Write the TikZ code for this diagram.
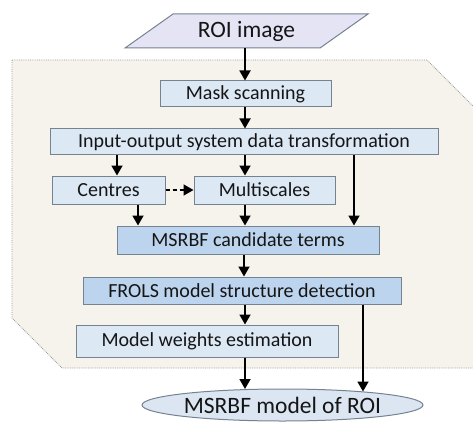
\documentclass[tikz,border=0pt]{standalone}
\usepackage{fontspec}
\setmainfont{Carlito}
\usetikzlibrary{shapes.geometric,arrows.meta}

\definecolor{panelfill}{HTML}{F6F3EC}
\definecolor{panelline}{HTML}{9A9A9A}
\definecolor{boxlight}{HTML}{DDE8F5}
\definecolor{boxdark}{HTML}{BCD4EE}
\definecolor{boxline}{HTML}{75828F}
\definecolor{roifill}{HTML}{E4E4F5}
\definecolor{outfill}{HTML}{DCE6F3}
\definecolor{txt}{HTML}{151515}

\tikzset{
  x=1pt, y=-1pt,
  panel/.style={fill=panelfill, draw=panelline, densely dotted, line width=0.8pt},
  stage/.style={rectangle, draw=boxline, line width=1pt, fill=boxlight,
    inner sep=0pt, text=txt, font=\fontsize{20}{24}\selectfont},
  keystage/.style={stage, fill=boxdark},
  roishape/.style={fill=roifill, draw=boxline, line width=1pt},
  roilabel/.style={inner sep=0pt, text=txt, font=\fontsize{23.5}{28}\selectfont},
  result/.style={ellipse, draw=boxline, line width=1pt, fill=outfill,
    inner sep=0pt, text=txt, font=\fontsize{23.5}{28}\selectfont},
  arr/.style={line width=1.8pt, -{Triangle[width=11pt,length=10pt]}},
  dasharr/.style={line width=1.6pt, dash pattern=on 4pt off 3pt,
    -{Triangle[width=11pt,length=10pt]}}
}

\begin{document}
\begin{tikzpicture}
  \useasboundingbox (0,0) rectangle (473,422);
  \clip (0,0) rectangle (473,422);

  % shaded processing panel
  \draw[panel] (12,60) -- (427,60) -- (476,109) -- (476,368) -- (62,368) -- (12,318) -- cycle;

  % input parallelogram
  \draw[roishape] (125,48) -- (173,14) -- (368,14) -- (320,48) -- cycle;
  \node[roilabel, minimum width=195pt, minimum height=34pt] (roi) at (246.5,31) {ROI image};

  % processing stages
  \node[stage, minimum width=171pt, minimum height=26pt] (mask) at (245.5,94) {Mask scanning};
  \node[stage, minimum width=388pt, minimum height=26pt] (io) at (244,142) {Input-output system data transformation};
  \node[stage, minimum width=113pt, minimum height=28pt] (centres) at (108.5,190) {Centres};
  \node[stage, minimum width=141pt, minimum height=28pt] (multi) at (264.5,190) {Multiscales};
  \node[keystage, minimum width=262pt, minimum height=28pt] (cand) at (248,240) {MSRBF candidate terms};
  \node[keystage, minimum width=318pt, minimum height=27pt] (frols) at (242,290.5) {FROLS model structure detection};
  \node[stage, minimum width=262pt, minimum height=32pt] (weights) at (207,341) {Model weights estimation};

  % output
  \node[result, minimum width=281pt, minimum height=32pt] (out) at (282.5,405) {MSRBF model of ROI};

  % connectors
  \draw[arr] (roi.south -| 245,0) -- (mask.north -| 245,0);
  \draw[arr] (mask.south -| 245,0) -- (io.north -| 245,0);
  \draw[arr] (io.south -| 117,0) -- (centres.north -| 117,0);
  \draw[arr] (io.south -| 245,0) -- (multi.north -| 245,0);
  \draw[arr] (io.south -| 354,0) -- (cand.north -| 354,0);
  \draw[dasharr] (centres.east) -- (multi.west);
  \draw[arr] (centres.south -| 138,0) -- (cand.north -| 138,0);
  \draw[arr] (multi.south -| 245,0) -- (cand.north -| 245,0);
  \draw[arr] (cand.south -| 244,0) -- (frols.north -| 244,0);
  \draw[arr] (frols.south -| 245,0) -- (weights.north -| 245,0);
  \draw[arr] (weights.south -| 245,0) -- ([yshift=-0.5pt]out.north -| 245,0);
  \draw[arr] (frols.south -| 363,0) -- ([yshift=-3pt]out.north -| 363,0);
\end{tikzpicture}
\end{document}
